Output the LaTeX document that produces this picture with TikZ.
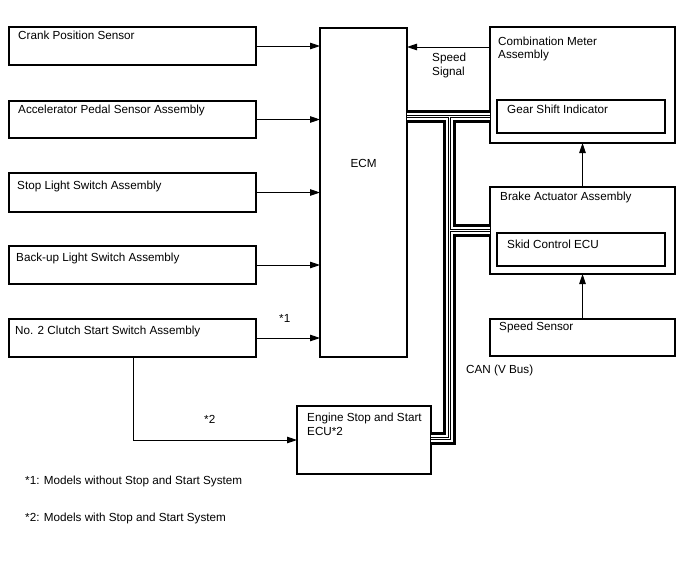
\documentclass[tikz,border=0pt]{standalone}
\usepackage{fontspec}
\setmainfont{Liberation Sans}
\usetikzlibrary{arrows.meta}
\begin{document}
\begin{tikzpicture}[x=1pt,y=-1pt,
  box/.style={draw, line width=1.3pt, inner sep=0pt, outer sep=0pt, anchor=north west},
  txt/.style={anchor=base west, inner sep=0pt, font=\fontsize{11.7pt}{13.5pt}\selectfont},
  arr/.style={line width=0.9pt, -{Triangle[length=10pt,width=6.5pt]}},
  ln/.style={line width=0.9pt}]
\useasboundingbox (0,0) rectangle (688,560);

% left boxes
\node[box, minimum width=247pt, minimum height=38pt] (crank) at (9,27) {};
\node[box, minimum width=247pt, minimum height=37pt] (accel) at (9,101) {};
\node[box, minimum width=247pt, minimum height=39pt] (stop) at (9,173) {};
\node[box, minimum width=247pt, minimum height=38pt] (backup) at (9,246) {};
\node[box, minimum width=247pt, minimum height=38pt] (clutch) at (9,319) {};
\node[txt] (tcrank) at (18,39.5) {Crank Position Sensor};
\node[txt] (taccel) at (18,113) {Accelerator Pedal Sensor Assembly};
\node[txt] (tstop) at (17,189) {Stop Light Switch Assembly};
\node[txt] (tbackup) at (16,261) {Back-up Light Switch Assembly};
\node[txt] (tclutch) at (15,334) {No. 2 Clutch Start Switch Assembly};

% ECM
\node[box, minimum width=87pt, minimum height=329pt] (ecm) at (320,28) {};
\node[txt, anchor=base] (tecm) at (363.5,167) {ECM};

% Engine stop and start ECU
\node[box, minimum width=134pt, minimum height=68pt] (eng) at (297,406) {};
\node[txt] (teng1) at (307,421) {Engine Stop and Start};
\node[txt] (teng2) at (307,435) {ECU*2};

% right side
\node[box, minimum width=185pt, minimum height=116pt] (comb) at (490,27) {};
\node[box, minimum width=168pt, minimum height=33pt] (gear) at (497,100) {};
\node[txt] (tcomb1) at (498,45) {Combination Meter};
\node[txt] (tcomb2) at (498,58.5) {Assembly};
\node[txt] (tgear) at (507,113) {Gear Shift Indicator};

\node[box, minimum width=185pt, minimum height=87pt] (brake) at (490,187) {};
\node[box, minimum width=168pt, minimum height=33pt] (skid) at (497,233) {};
\node[txt] (tbrake) at (500,200) {Brake Actuator Assembly};
\node[txt] (tskid) at (507,248) {Skid Control ECU};

\node[box, minimum width=185pt, minimum height=37pt] (speed) at (490,319) {};
\node[txt] (tspeed) at (499,330) {Speed Sensor};

% labels
\node[txt] (tss1) at (432,61) {Speed};
\node[txt] (tss2) at (432,75) {Signal};
\node[txt] (tcan) at (466,373) {CAN (V Bus)};
\node[txt] (tst1) at (279,322) {*1};
\node[txt] (tst2) at (204,423) {*2};
\node[txt] (tfn1) at (25,484) {*1: Models without Stop and Start System};
\node[txt] (tfn2) at (25,521) {*2: Models with Stop and Start System};

% arrows into ECM
\foreach \n in {crank,accel,stop,backup,clutch}
  \draw[arr] (\n.east) -- (\n.east -| ecm.west);

% speed signal
\draw[arr] ([yshift=-20pt]comb.north west) -- ([yshift=-20pt]comb.north west -| ecm.east);

% vertical arrows on the right
\draw[arr] (brake.north) -- (comb.south);
\draw[arr] (speed.north) -- (brake.south);

% clutch to engine ECU
\coordinate (c2) at (133,440);
\draw[arr] (clutch.south -| c2) -- (c2) -- (eng.west);

% CAN bus
\coordinate (j1) at (449,116.5);
\coordinate (j2) at (449,230.5);
\coordinate (j3) at (449,438.5);
\foreach \w/\c in {13/black,7/white,3/black,1/white} {
  \draw[line width=\w pt, \c] (ecm.east |- j1) -- (comb.west |- j1);
  \draw[line width=\w pt, \c, line join=miter] (j1) -- (j3) -- (eng.east |- j3);
  \draw[line width=\w pt, \c] (j2) -- (brake.west |- j2);
}
\end{tikzpicture}
\end{document}
